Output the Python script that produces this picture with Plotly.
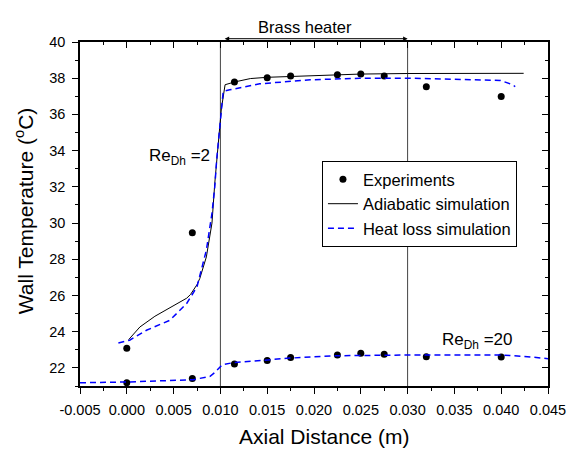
import plotly.graph_objects as go

# ---------------- data ----------------
exp_x = [0.000, 0.007, 0.0115, 0.015, 0.0175, 0.0225, 0.025, 0.0275, 0.032, 0.040]
exp_re2 = [23.08, 29.46, 37.79, 38.02, 38.12, 38.19, 38.23, 38.12, 37.53, 36.99]
exp_re20 = [21.18, 21.41, 22.21, 22.41, 22.57, 22.71, 22.81, 22.75, 22.62, 22.60]

adi_re2_x = [0.0002, 0.0014, 0.0030, 0.0050, 0.0064, 0.0068, 0.0075, 0.0078, 0.0085,
             0.0091, 0.0094, 0.0101, 0.0105, 0.0115, 0.0132, 0.0150, 0.0175, 0.0225,
             0.0250, 0.0300, 0.0350, 0.0424]
adi_re2_y = [23.56, 24.26, 24.85, 25.46, 25.85, 26.05, 26.60, 26.94, 28.13,
             30.00, 32.20, 36.30, 37.64, 37.79, 37.98, 38.05, 38.10, 38.20,
             38.23, 38.26, 38.27, 38.27]

hl_re2_x = [-0.0009, 0.0003, 0.0021, 0.0046, 0.0064, 0.0075, 0.0085, 0.0091,
            0.0094, 0.0096, 0.0103, 0.0110, 0.0142, 0.0196, 0.0249, 0.0303,
            0.0399, 0.0410, 0.0415]
hl_re2_y = [23.38, 23.53, 24.08, 24.63, 25.56, 26.48, 28.50, 30.54,
            32.00, 33.49, 37.27, 37.36, 37.69, 37.91, 38.00, 38.00,
            37.88, 37.68, 37.54]

hl_re20_x = [-0.005, 0.000, 0.0071, 0.0089, 0.0094, 0.0099, 0.0102, 0.0114, 0.0149,
             0.0174, 0.0224, 0.0299, 0.0399, 0.0424, 0.045]
hl_re20_y = [21.18, 21.22, 21.35, 21.53, 21.75, 22.05, 22.18, 22.29, 22.42,
             22.54, 22.67, 22.71, 22.71, 22.64, 22.51]

x_tickvals = [-0.005, 0.000, 0.005, 0.010, 0.015, 0.020, 0.025, 0.030, 0.035, 0.040, 0.045]
x_ticktext = ["-0.005", "0.000", "0.005", "0.010", "0.015", "0.020", "0.025",
              "0.030", "0.035", "0.040", "0.045"]

heater_start, heater_end = 0.010, 0.030
x_range = [-0.005, 0.045]
y_range = [21, 40]

FONT = "Liberation Sans, Arial, sans-serif"

fig = go.Figure()

fig.add_trace(go.Scatter(x=exp_x, y=exp_re2, mode="markers", name="Experiments",
                         marker=dict(color="black", size=7), legendgroup="exp"))
fig.add_trace(go.Scatter(x=exp_x, y=exp_re20, mode="markers", name="Experiments",
                         marker=dict(color="black", size=7), legendgroup="exp",
                         showlegend=False))
fig.add_trace(go.Scatter(x=adi_re2_x, y=adi_re2_y, mode="lines", name="Adiabatic simulation",
                         line=dict(color="black", width=1)))
fig.add_trace(go.Scatter(x=hl_re2_x, y=hl_re2_y, mode="lines", name="Heat loss simulation",
                         line=dict(color="#0000ff", width=1.5, dash="6px,4px"),
                         legendgroup="hl"))
fig.add_trace(go.Scatter(x=hl_re20_x, y=hl_re20_y, mode="lines", name="Heat loss simulation",
                         line=dict(color="#0000ff", width=1.5, dash="6px,4px"),
                         legendgroup="hl", showlegend=False))
# empty trace so the mirrored top/right axes are drawn
fig.add_trace(go.Scatter(x=[], y=[], xaxis="x2", yaxis="y2", showlegend=False,
                         hoverinfo="skip"))

for xv in (heater_start, heater_end):
    fig.add_shape(type="line", x0=xv, x1=xv, y0=0, y1=1, xref="x", yref="paper",
                  line=dict(color="#444444", width=1), layer="below")

tickfont = dict(family=FONT, size=14.5, color="black")

fig.update_layout(
    width=579, height=449,
    margin=dict(l=80, r=31, t=42, b=63),
    paper_bgcolor="white", plot_bgcolor="white",
    font=dict(family=FONT, color="black"),
    xaxis=dict(range=x_range, tickvals=x_tickvals, ticktext=x_ticktext,
               ticks="outside", ticklen=6, tickwidth=1, tickcolor="black",
               showline=True, linewidth=1.5, linecolor="black", showgrid=False,
               zeroline=False, tickfont=tickfont, ticklabelstandoff=4,
               minor=dict(ticks="outside", ticklen=3, dtick=0.0025, tickcolor="black")),
    yaxis=dict(range=y_range, dtick=2, tick0=0,
               ticks="outside", ticklen=6, tickwidth=1, tickcolor="black",
               showline=True, linewidth=1.5, linecolor="black", showgrid=False,
               zeroline=False, tickfont=tickfont, ticklabelstandoff=4,
               minor=dict(ticks="outside", ticklen=3, dtick=1, tickcolor="black")),
    xaxis2=dict(range=x_range, overlaying="x", side="top", anchor="y2",
                dtick=0.005, tick0=0, ticks="inside", ticklen=6, tickcolor="black",
                showline=True, linewidth=1.5, linecolor="black", showgrid=False,
                zeroline=False, showticklabels=False,
                minor=dict(ticks="inside", ticklen=3, dtick=0.0025, tickcolor="black")),
    yaxis2=dict(range=y_range, overlaying="y", side="right", anchor="x2",
                dtick=2, tick0=0, ticks="inside", ticklen=6, tickcolor="black",
                showline=True, linewidth=1.5, linecolor="black", showgrid=False,
                zeroline=False, showticklabels=False,
                minor=dict(ticks="inside", ticklen=3, dtick=1, tickcolor="black")),
    legend=dict(x=0.517, y=0.654, xanchor="left", yanchor="top",
                bgcolor="white", bordercolor="black", borderwidth=1,
                font=dict(family=FONT, size=16.5, color="black"),
                tracegroupgap=0),
    showlegend=True,
)

fig.add_annotation(text="Axial Distance (m)", xref="paper", yref="paper",
                   x=0.521, y=-0.1465, showarrow=False,
                   font=dict(family=FONT, size=21, color="black"),
                   xanchor="center", yanchor="middle")
fig.add_annotation(text="Wall Temperature (<sup>o</sup>C)", xref="paper", yref="paper",
                   x=-0.119, y=0.509, showarrow=False, textangle=-90,
                   font=dict(family=FONT, size=21, color="black"),
                   xanchor="center", yanchor="middle")
fig.add_annotation(text="Brass heater", xref="x", yref="paper",
                   x=(heater_start + heater_end) / 2 - 0.001, y=1.075, showarrow=False,
                   font=dict(family=FONT, size=16.5, color="black"))
fig.add_annotation(text="", xref="x", yref="paper", x=heater_end, y=1.0096,
                   axref="x", ayref="pixel", ax=heater_start + 0.0003, ay=0,
                   showarrow=True, arrowside="end+start", arrowhead=2,
                   arrowsize=0.9, arrowwidth=1, arrowcolor="black",
                   standoff=0, startstandoff=0)
fig.add_annotation(text="Re<sub>Dh</sub> =2", xref="x", yref="y",
                   x=0.0091, y=33.65, xanchor="right", yanchor="middle",
                   showarrow=False, font=dict(family=FONT, size=17, color="black"))
fig.add_annotation(text="Re<sub>Dh</sub> =20", xref="x", yref="y",
                   x=0.0415, y=23.47, xanchor="right", yanchor="middle",
                   showarrow=False, font=dict(family=FONT, size=17, color="black"))

fig.write_html("out.html")
